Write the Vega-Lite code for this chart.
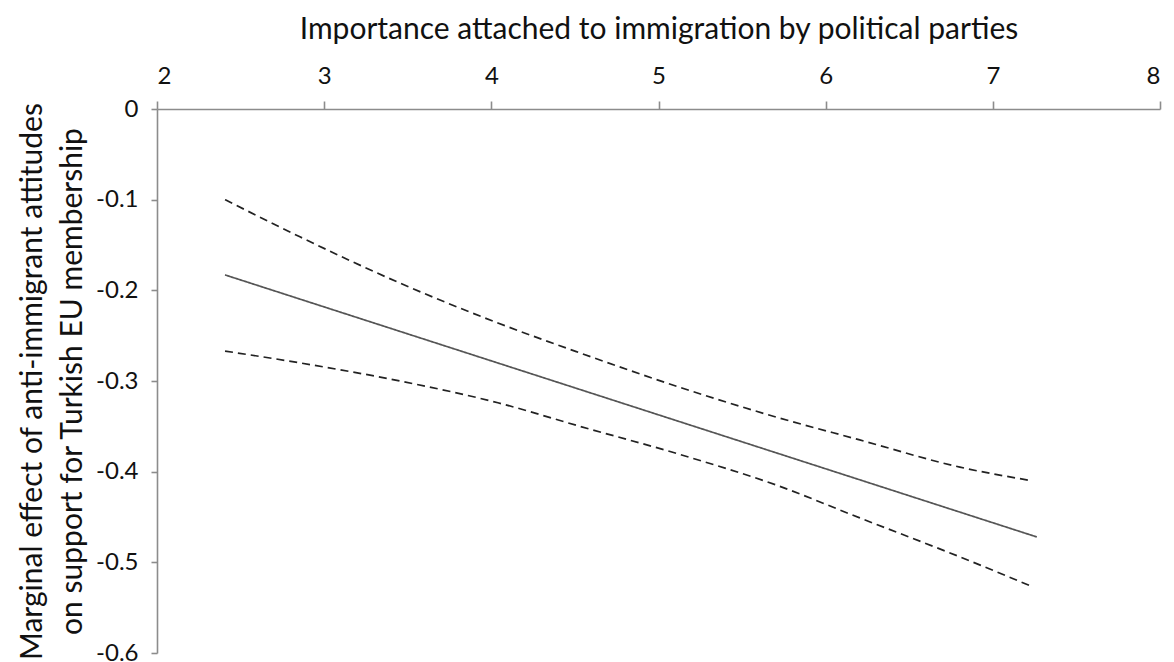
{
  "$schema": "https://vega.github.io/schema/vega-lite/v6.json",
  "autosize": "none",
  "padding": {"left": 157, "top": 109, "right": 14, "bottom": 9},
  "width": 1003,
  "height": 544,
  "background": "white",
  "config": {"view": {"stroke": null}, "font": "Lato"},
  "data": {"values": [
    {"x": 2.407, "y": -0.183, "s": "Estimate"},
    {"x": 7.263, "y": -0.472, "s": "Estimate"},
    {"x": 2.407, "y": -0.100, "s": "Upper"},
    {"x": 2.855, "y": -0.141, "s": "Upper"},
    {"x": 3.453, "y": -0.192, "s": "Upper"},
    {"x": 4.039, "y": -0.236, "s": "Upper"},
    {"x": 4.530, "y": -0.269, "s": "Upper"},
    {"x": 5.128, "y": -0.307, "s": "Upper"},
    {"x": 5.708, "y": -0.340, "s": "Upper"},
    {"x": 6.204, "y": -0.365, "s": "Upper"},
    {"x": 6.803, "y": -0.395, "s": "Upper"},
    {"x": 7.233, "y": -0.410, "s": "Upper"},
    {"x": 2.407, "y": -0.267, "s": "Lower"},
    {"x": 2.855, "y": -0.280, "s": "Lower"},
    {"x": 3.453, "y": -0.300, "s": "Lower"},
    {"x": 4.039, "y": -0.324, "s": "Lower"},
    {"x": 4.530, "y": -0.350, "s": "Lower"},
    {"x": 5.128, "y": -0.381, "s": "Lower"},
    {"x": 5.708, "y": -0.415, "s": "Lower"},
    {"x": 6.204, "y": -0.451, "s": "Lower"},
    {"x": 6.803, "y": -0.494, "s": "Lower"},
    {"x": 7.239, "y": -0.527, "s": "Lower"}
  ]},
  "mark": {"type": "line", "strokeWidth": 1.7, "interpolate": "monotone"},
  "encoding": {
    "x": {
      "field": "x", "type": "quantitative",
      "scale": {"domain": [2, 8], "nice": false, "zero": false},
      "axis": {
        "orient": "top", "values": [2, 3, 4, 5, 6, 7, 8], "format": "d",
        "title": "Importance attached to immigration by political parties",
        "titleFontSize": 30, "titleFontWeight": "normal", "titleColor": "#111",
        "titlePadding": 20,
        "labelFontSize": 24, "labelColor": "#111", "labelPadding": 13,
        "domainColor": "#8c8c8c", "tickColor": "#8c8c8c", "tickSize": 8, "domainWidth": 1.6, "tickWidth": 1.6,
        "grid": false
      }
    },
    "y": {
      "field": "y", "type": "quantitative",
      "scale": {"domain": [-0.6, 0], "nice": false},
      "axis": {
        "values": [0, -0.1, -0.2, -0.3, -0.4, -0.5, -0.6],
        "labelExpr": "datum.value == 0 ? '0' : '-' + format(abs(datum.value), '.1f')",
        "title": ["Marginal effect of anti-immigrant attitudes", "on support for Turkish EU membership"],
        "titleFontSize": 30, "titleFontWeight": "normal", "titleColor": "#111",
        "titlePadding": 8, "titleLineHeight": 40,
        "labelFontSize": 24, "labelColor": "#111", "labelPadding": 13,
        "domainColor": "#8c8c8c", "tickColor": "#8c8c8c", "tickSize": 6, "domainWidth": 1.6, "tickWidth": 1.6,
        "grid": false
      }
    },
    "detail": {"field": "s"},
    "color": {
      "field": "s", "type": "nominal", "legend": null,
      "scale": {"domain": ["Estimate", "Upper", "Lower"], "range": ["#555555", "#222222", "#222222"]}
    },
    "strokeDash": {
      "field": "s", "type": "nominal", "legend": null,
      "scale": {"domain": ["Estimate", "Upper", "Lower"], "range": [[1, 0], [8, 5], [8, 5]]}
    }
  }
}
